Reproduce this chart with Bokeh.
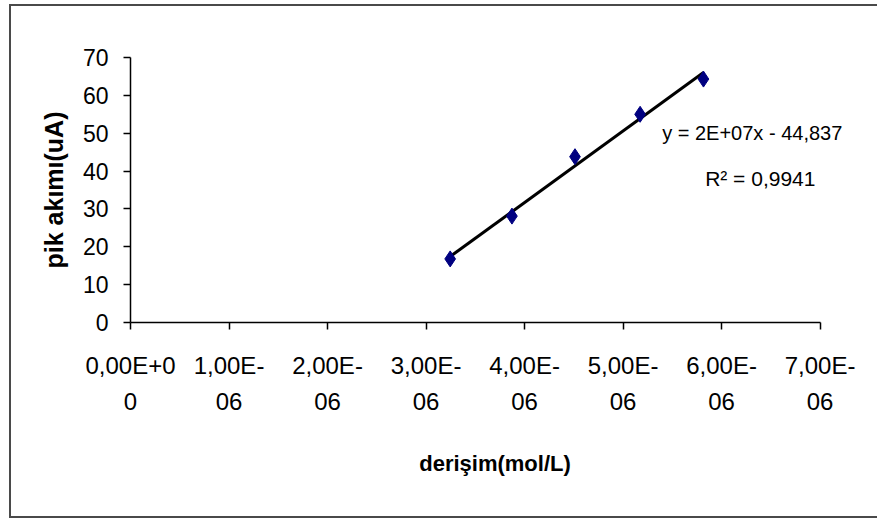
import numpy as np
from bokeh.plotting import figure
from bokeh.models import (Range1d, LinearAxis, FixedTicker, CustomJSTickFormatter, Label)
from bokeh.embed import file_html
from bokeh.resources import INLINE

# ---- data ----
conc = [3.245e-6, 3.872e-6, 4.512e-6, 5.173e-6, 5.816e-6]   # derişim (mol/L)
current = [16.8, 28.1, 43.8, 55.0, 64.3]                     # pik akımı (uA)

x_ticks = [0.0, 1e-6, 2e-6, 3e-6, 4e-6, 5e-6, 6e-6, 7e-6]
x_labels_line1 = ["0,00E+0", "1,00E-", "2,00E-", "3,00E-", "4,00E-", "5,00E-", "6,00E-", "7,00E-"]
x_labels_line2 = ["0", "06", "06", "06", "06", "06", "06", "06"]
y_ticks = [0, 10, 20, 30, 40, 50, 60, 70]

eq_text = "y = 2E+07x - 44,837"
r2_text = "R\u00b2 = 0,9941"

FONT = "Liberation Sans"

p = figure(width=866, height=510, output_backend="svg", toolbar_location=None,
           x_range=Range1d(0, 7.4e-6), y_range=Range1d(0, 70),
           x_axis_type=None, y_axis_type=None,
           frame_width=729, frame_height=265,
           min_border_left=119, min_border_right=18,
           min_border_top=51, min_border_bottom=194)
p.outline_line_color = None
p.xgrid.visible = False
p.ygrid.visible = False
p.background_fill_color = "white"
p.border_fill_color = "white"
p.styles = {"margin-left": "11px", "margin-top": "6px",
            "box-shadow": "-2px 0 0 0 #4a4a4a, 0 2px 0 0 #4a4a4a, 0 -2px 0 0 #4a4a4a, -2px -2px 0 0 #4a4a4a, -2px 2px 0 0 #4a4a4a"}

# y axis
yax = LinearAxis(ticker=FixedTicker(ticks=y_ticks), axis_label="pik akımı(uA)")
yax.axis_line_color = "black"
yax.axis_line_width = 1.5
yax.major_tick_line_color = "black"
yax.major_tick_line_width = 1.5
yax.major_tick_out = 7
yax.major_tick_in = 0
yax.minor_tick_line_color = None
yax.major_label_standoff = 15
yax.major_label_text_font = FONT
yax.major_label_text_font_size = "23px"
yax.major_label_text_color = "black"
yax.axis_label_text_font = FONT
yax.axis_label_text_font_style = "bold"
yax.axis_label_text_font_size = "25px"
yax.axis_label_text_color = "black"
yax.axis_label_standoff = 12
p.add_layout(yax, "left")

# x axis, first line of tick labels
fmt1 = CustomJSTickFormatter(args=dict(labels=x_labels_line1),
                             code="return labels[Math.round(tick*1e6)];")
fmt2 = CustomJSTickFormatter(args=dict(labels=x_labels_line2),
                             code="return labels[Math.round(tick*1e6)];")
xax1 = LinearAxis(ticker=FixedTicker(ticks=x_ticks), formatter=fmt1,
                  bounds=(x_ticks[0], x_ticks[-1]))
xax1.axis_line_color = "black"
xax1.axis_line_width = 1.5
xax1.major_tick_line_color = "black"
xax1.major_tick_line_width = 1.5
xax1.major_tick_out = 7
xax1.major_tick_in = 0
xax1.minor_tick_line_color = None
xax1.major_label_standoff = 22
xax1.major_label_text_font = FONT
xax1.major_label_text_font_size = "24px"
xax1.major_label_text_color = "black"
p.add_layout(xax1, "below")

# x axis, second line of tick labels + title
xax2 = LinearAxis(ticker=FixedTicker(ticks=x_ticks), formatter=fmt2,
                  bounds=(x_ticks[0], x_ticks[-1]),
                  axis_label="derişim(mol/L)")
xax2.axis_line_color = None
xax2.major_tick_line_color = None
xax2.minor_tick_line_color = None
xax2.major_tick_out = 0
xax2.major_tick_in = 0
xax2.major_label_standoff = 11
xax2.major_label_text_font = FONT
xax2.major_label_text_font_size = "24px"
xax2.major_label_text_color = "black"
xax2.axis_label_text_font = FONT
xax2.axis_label_text_font_style = "bold"
xax2.axis_label_text_font_size = "22px"
xax2.axis_label_text_color = "black"
xax2.axis_label_standoff = 38
p.add_layout(xax2, "below")

# linear trend line (least squares from the data)
slope, intercept = np.polyfit(conc, current, 1)
xfit = np.array([min(conc), max(conc)])
p.line(xfit, slope * xfit + intercept, line_color="black", line_width=3)

# data points
p.scatter(conc, current, marker="diamond", size=16, fill_color="#000080",
          line_color="#000080")

# trendline equation labels
p.add_layout(Label(x=5.397e-6, y=50.0, text=eq_text, text_font=FONT,
                   text_font_size="20px", text_color="black",
                   text_baseline="middle", text_align="left"))
p.add_layout(Label(x=5.833e-6, y=38.0, text=r2_text, text_font=FONT,
                   text_font_size="21px", text_color="black",
                   text_baseline="middle", text_align="left"))

open("out.html", "w").write(file_html(p, INLINE))
